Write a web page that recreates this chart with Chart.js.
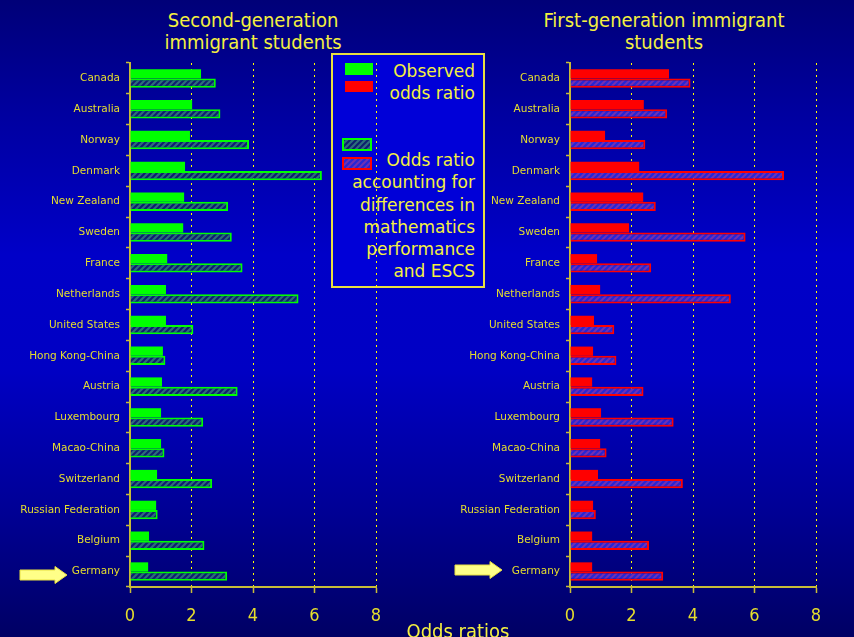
<!DOCTYPE html>
<html>
<head>
<meta charset="utf-8">
<script src="https://cdn.jsdelivr.net/npm/chart.js@4.4.1/dist/chart.umd.min.js"></script>
<style>
  html, body { margin: 0; padding: 0; width: 854px; height: 637px; overflow: hidden; }
  body {
    position: relative;
    background: linear-gradient(to bottom, #000078 0%, #0000a0 18%, #0000c8 40%, #0000c4 58%, #00009a 78%, #000064 100%);
    font-family: "DejaVu Sans", sans-serif;
  }
  .title {
    position: absolute; color: #f4f040; text-align: center;
    font-family: "DejaVu Sans Condensed", "Liberation Sans Narrow", sans-serif;
    font-size: 20px; line-height: 22px;
  }
  .box { position: absolute; }
  #legend {
    position: absolute; left: 331px; top: 53px; width: 150px; height: 231px;
    border: 2px solid #e8e040; background: #0000d8;
  }
  .legtext {
    position: absolute; right: 8px; color: #f4f040; text-align: right;
    font-size: 17px; line-height: 22.3px;
  }
  .sw { position: absolute; box-sizing: border-box; }
  #xtitle {
    position: absolute; left: 358px; width: 200px; top: 619px; text-align: center;
    color: #f4f040; font-family: "DejaVu Sans Condensed", "Liberation Sans Narrow", sans-serif; font-size: 20px;
  }
  svg.arrow { position: absolute; }
</style>
</head>
<body>

<div class="title" style="left:143px;width:220px;top:9px;">Second-generation<br>immigrant students</div>
<div class="title" style="left:529px;width:270px;top:9px;">First-generation immigrant<br>students</div>

<div id="legend">
  <div class="sw" style="left:12px;top:8px;width:28px;height:12px;background:#00ff00;"></div>
  <div class="sw" style="left:12px;top:26px;width:28px;height:11px;background:#ff0000;"></div>
  <div class="legtext" style="top:5px;">Observed<br>odds ratio</div>
  <div class="sw" id="swGreen" style="left:9px;top:83px;width:30px;height:13px;border:2px solid #00ff00;"></div>
  <div class="sw" id="swRed" style="left:9px;top:102px;width:30px;height:13px;border:2px solid #ff0000;"></div>
  <div class="legtext" style="top:94px;">Odds ratio<br>accounting for<br>differences in<br>mathematics<br>performance<br>and ESCS</div>
</div>

<div class="box" style="left:0;top:0;width:400px;height:637px;"><canvas id="left"></canvas></div>
<div class="box" style="left:440px;top:0;width:414px;height:637px;"><canvas id="right"></canvas></div>

<div id="xtitle">Odds ratios</div>

<svg class="arrow" style="left:18px;top:565px;" width="52" height="20">
  <polygon points="2,5 37,5 37,1.5 49,10 37,18.5 37,15 2,15" fill="#ffff88" stroke="#e8e040" stroke-width="1"/>
</svg>
<svg class="arrow" style="left:453px;top:560px;" width="52" height="20">
  <polygon points="2,5 37,5 37,1.5 49,10 37,18.5 37,15 2,15" fill="#ffff88" stroke="#e8e040" stroke-width="1"/>
</svg>

<script>
const countries = ['Canada', 'Australia', 'Norway', 'Denmark', 'New Zealand', 'Sweden', 'France',
  'Netherlands', 'United States', 'Hong Kong-China', 'Austria', 'Luxembourg', 'Macao-China',
  'Switzerland', 'Russian Federation', 'Belgium', 'Germany'];

// second-generation immigrant students
const secondObserved = [2.31, 2.02, 1.95, 1.79, 1.76, 1.73, 1.21, 1.17, 1.17, 1.07, 1.04, 1.01, 1.01, 0.88, 0.85, 0.62, 0.59];
const secondAdjusted = [2.79, 2.94, 3.87, 6.24, 3.19, 3.31, 3.66, 5.48, 2.06, 1.15, 3.50, 2.38, 1.12, 2.67, 0.90, 2.42, 3.16];

// first-generation immigrant students
const firstObserved = [3.22, 2.40, 1.14, 2.25, 2.38, 1.92, 0.88, 0.98, 0.78, 0.75, 0.72, 1.01, 0.98, 0.91, 0.75, 0.72, 0.72];
const firstAdjusted = [3.92, 3.16, 2.45, 6.96, 2.79, 5.71, 2.64, 5.23, 1.44, 1.51, 2.39, 3.37, 1.19, 3.67, 0.84, 2.57, 3.03];

const xTicks = [0, 2, 4, 6, 8];

const axisColor = '#c8bc38';
const labelColor = '#e6de2c';

function makeHatch(bg, fg) {
  const c = document.createElement('canvas');
  c.width = 6; c.height = 6;
  const g = c.getContext('2d');
  g.fillStyle = bg;
  g.fillRect(0, 0, 6, 6);
  g.strokeStyle = fg;
  g.lineWidth = 2;
  g.beginPath();
  g.moveTo(0, 6); g.lineTo(6, 0);
  g.moveTo(-3, 3); g.lineTo(3, -3);
  g.moveTo(3, 9); g.lineTo(9, 3);
  g.stroke();
  return c;
}

const greenHatch = makeHatch('#2c6c7c', '#0e1e6e');
const redHatch = makeHatch('#2626d6', '#7030b4');
document.getElementById('swGreen').style.background = 'url(' + greenHatch.toDataURL() + ')';
document.getElementById('swRed').style.background = 'url(' + redHatch.toDataURL() + ')';

function makeChart(id, observed, adjusted, solid, hatch, padRight) {
  const ctx = document.getElementById(id).getContext('2d');
  return new Chart(ctx, {
    type: 'bar',
    data: {
      labels: countries,
      datasets: [{
        label: 'Observed odds ratio',
        data: observed,
        backgroundColor: solid,
        borderWidth: 0
      }, {
        label: 'Odds ratio accounting for differences in mathematics performance and ESCS',
        data: adjusted,
        backgroundColor: ctx.createPattern(hatch, 'repeat'),
        borderColor: solid,
        borderWidth: 2
      }]
    },
    options: {
      indexAxis: 'y',
      responsive: true,
      maintainAspectRatio: false,
      animation: false,
      categoryPercentage: 0.6,
      barPercentage: 1.0,
      layout: { padding: { top: 63, right: padRight, left: 0, bottom: 0 } },
      plugins: { legend: { display: false }, tooltip: { enabled: false } },
      scales: {
        y: {
          grid: { offset: true, drawOnChartArea: false, drawTicks: true, tickLength: 4, tickColor: axisColor, tickWidth: 1.5 },
          border: { color: axisColor, width: 2 },
          ticks: { color: labelColor, font: { family: 'DejaVu Sans', size: 10.5 }, padding: 6, autoSkip: false },
          afterFit(s) { s.width = 130; }
        },
        x: {
          min: 0,
          max: 8,
          afterBuildTicks(s) { s.ticks = xTicks.map(v => ({ value: v })); },
          grid: {
            color: c => (c.tick && c.tick.value === 0) ? 'rgba(0,0,0,0)' : '#ffff00',
            lineWidth: 1,
            tickLength: 6,
            tickColor: axisColor,
            tickWidth: 1.5
          },
          border: { color: axisColor, width: 2, dash: [2, 4] },
          ticks: { color: labelColor, font: { family: 'DejaVu Sans Condensed', size: 18 }, padding: 13 },
          afterFit(s) { s.height = 50; }
        }
      }
    }
  });
}

makeChart('left', secondObserved, secondAdjusted, '#00ff00', greenHatch, 24);
makeChart('right', firstObserved, firstAdjusted, '#ff0000', redHatch, 38);
</script>
</body>
</html>
